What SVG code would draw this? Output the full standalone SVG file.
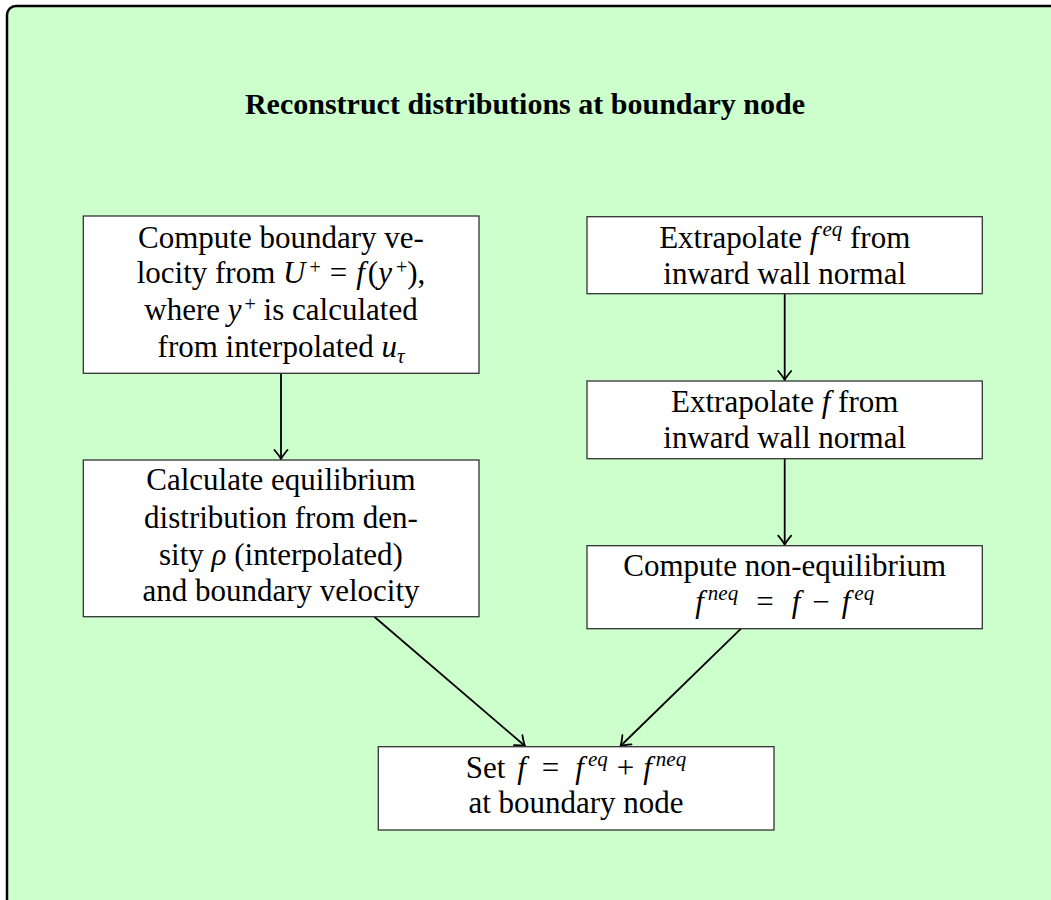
<svg xmlns="http://www.w3.org/2000/svg" width="1051" height="900" viewBox="0 0 1051 900">
<defs>
<style>
.frame{fill:#ccffcc;stroke:#000;stroke-width:2.5}
.box{fill:#fff;stroke:#333;stroke-width:1.3}
.t{font-family:"Liberation Serif","DejaVu Serif",serif;font-size:31px;fill:#000;text-anchor:middle}
.title{font-family:"Liberation Serif","DejaVu Serif",serif;font-size:30px;font-weight:bold;fill:#000;text-anchor:middle}
.m{font-style:italic}
.s{font-size:21px;font-style:italic}
.p{font-size:20px;font-style:normal}
.c{fill:none;stroke:#000;stroke-width:1.8}
</style>
<marker id="ah" markerUnits="userSpaceOnUse" markerWidth="20" markerHeight="20" refX="0" refY="0" viewBox="-12 -10 14 20" orient="auto">
<path d="M-9,-6.5 Q-3,-1.5 0,0 Q-3,1.5 -9,6.5" fill="none" stroke="#000" stroke-width="1.8" stroke-linecap="round"/>
</marker>
</defs>
<rect class="frame" x="7" y="6" width="1100" height="1000" rx="9"/>
<text class="title" x="525" y="114">Reconstruct distributions at boundary node</text>
<g id="connectors">
<line class="c" x1="281" y1="373.3" x2="281" y2="459" marker-end="url(#ah)"/>
<line class="c" x1="784.7" y1="293.7" x2="784.7" y2="380" marker-end="url(#ah)"/>
<line class="c" x1="784.7" y1="458.7" x2="784.7" y2="544.7" marker-end="url(#ah)"/>
<line class="c" x1="374.3" y1="616.7" x2="525" y2="746" marker-end="url(#ah)"/>
<line class="c" x1="741" y1="628.7" x2="620.5" y2="746" marker-end="url(#ah)"/>
</g>
<g id="n1">
<rect class="box" x="83.3" y="216" width="395.7" height="157.3"/>
<text class="t" x="281" y="248">Compute boundary ve-</text>
<text class="t" x="281" y="283">locity from <tspan class="m">U</tspan><tspan class="p" dx="4" dy="-9">+</tspan><tspan dx="9" dy="9">=</tspan><tspan class="m" dx="9">f</tspan><tspan dx="3">(</tspan><tspan class="m">y</tspan><tspan class="p" dx="4" dy="-9">+</tspan><tspan dy="9">),</tspan></text>
<text class="t" x="281" y="320">where <tspan class="m">y</tspan><tspan class="p" dx="3" dy="-9">+</tspan><tspan dy="9"> is calculated</tspan></text>
<text class="t" x="281" y="357">from interpolated <tspan class="m">u</tspan><tspan class="s" dy="6">τ</tspan></text>
</g>
<g id="n2">
<rect class="box" x="83.3" y="460" width="395.7" height="156.7"/>
<text class="t" x="281" y="490">Calculate equilibrium</text>
<text class="t" x="281" y="527.7">distribution from den-</text>
<text class="t" x="281" y="565">sity <tspan class="m">ρ</tspan> (interpolated)</text>
<text class="t" x="281" y="600.7">and boundary velocity</text>
</g>
<g id="n3">
<rect class="box" x="587" y="216.7" width="395.3" height="77"/>
<text class="t" x="784.7" y="248.3">Extrapolate <tspan class="m">f</tspan><tspan class="s" dx="4" dy="-12">eq</tspan><tspan dy="12"> from</tspan></text>
<text class="t" x="784.7" y="284">inward wall normal</text>
</g>
<g id="n4">
<rect class="box" x="587" y="381" width="395.3" height="77.7"/>
<text class="t" x="784.7" y="411.7">Extrapolate <tspan class="m">f</tspan> from</text>
<text class="t" x="784.7" y="448.3">inward wall normal</text>
</g>
<g id="n5">
<rect class="box" x="587" y="545.7" width="395.3" height="83"/>
<text class="t" x="784.7" y="576">Compute non-equilibrium</text>
<text class="t" x="784.7" y="612"><tspan class="m">f</tspan><tspan class="s" dx="4" dy="-12">neq</tspan><tspan dx="18" dy="12">=</tspan><tspan class="m" dx="18">f</tspan><tspan dx="12">−</tspan><tspan class="m" dx="12">f</tspan><tspan class="s" dx="4" dy="-12">eq</tspan></text>
</g>
<g id="n6">
<rect class="box" x="378.3" y="746.7" width="395.7" height="83.3"/>
<text class="t" x="576" y="778.3">Set <tspan class="m" dx="4">f</tspan><tspan dx="16">=</tspan><tspan class="m" dx="16">f</tspan><tspan class="s" dx="4" dy="-12">eq</tspan><tspan dx="9" dy="12">+</tspan><tspan class="m" dx="9">f</tspan><tspan class="s" dx="4" dy="-12">neq</tspan></text>
<text class="t" x="576" y="813.3">at boundary node</text>
</g>
</svg>
